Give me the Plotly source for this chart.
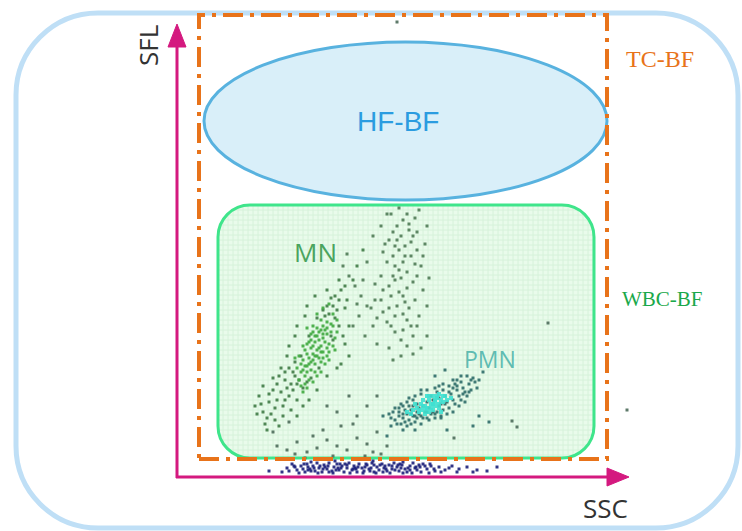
import math
import plotly.graph_objects as go

# ---------------- data (SSC, SFL channel values) ----------------
mn_core = [(128,110),(132,118),(136,122),(140,126),(144,130),(148,134),(138,112),(142,118),(146,124),
           (150,128),(134,128),(130,122),(126,116),(124,104),(128,100),(134,106),(138,104),(144,114),
           (150,120),(152,132),(150,142),(146,138),(142,136),(138,134),(134,136),(130,132),(136,144),
           (140,148),(146,150),(150,154),(156,150),(144,156),(140,120),(136,116),(132,112),(146,142),
           (142,144),(138,140),(148,146),(154,144),(130,110),(126,106),(136,130),(144,124),
           (124,90),(122,96),(126,84),(130,88),(132,96),(128,92),(136,94),(140,100),(134,114),(130,104),
           (124,112),(120,108),(138,120),(146,118),(152,124),(156,130),(158,138),(160,144),(154,152),
           (150,148),(144,146),(140,140),(134,142),(128,126),(132,134),(126,130),(148,112),(142,128),
           (152,116),(158,126),(160,156),(156,162),(146,168),(152,172),(140,162),(136,150),(130,148),
           (122,120),(118,118),(144,104)]
mn_outer = [(154,140),(158,158),(152,162),(148,160),(140,158),(160,166),(156,170),(150,170),(162,176),
            (158,180),(164,186),(168,190),(154,178),(146,166),(132,140),(116,86),(112,80),(108,76),
            (114,92),(110,88),(104,84),(100,76),(106,70),(98,68),(94,62),(90,58),(100,92),(96,86),
            (102,100),(108,104),(112,108),(118,114),(124,120),(120,76),(126,88),(130,94),(122,96),
            (118,100),(84,72),(88,52),(82,80),(106,60),(126,70),(160,108),(166,140),(172,120),(110,120),
            (118,140),(128,160),(170,176),(176,196),(180,210),(186,226),(120,92),(116,104),(134,98),
            (142,108),(156,136),(162,150),(92,74),(98,56),(86,64),
            (78,70),(80,62),(90,46),(102,50),(114,66),(120,60),(108,96),(104,108),(96,98),(112,130),
            (120,150),(130,170),(138,180),(150,186),(162,196),(168,168),(172,150),(168,132),(164,112),
            (150,100),(140,86),(132,76),(92,82),(86,90)]
upper = [(220,250),(226,256),(230,262),(216,244),(212,236),(224,240),(232,246),(236,240),(228,230),
         (222,226),(216,220),(210,214),(218,210),(226,214),(234,220),(240,226),(230,204),(224,198),
         (218,196),(212,190),(206,186),(214,180),(222,184),(230,188),(236,194),(240,200),(244,210),
         (228,174),(220,170),(212,168),(206,164),(200,158),(210,154),(218,160),(226,162),(232,168),
         (238,176),(234,150),(226,146),(218,144),(224,136),(230,130),(236,140),(242,160),(246,186),
         (204,200),(198,176),(194,168),(208,232),(238,258),(242,266),(250,250),(248,232),(214,262),
         (196,150),(188,140),(200,132),(212,128),(244,128),(250,140),(172,200),(178,190),(184,180),
         (166,210),(190,170),(182,160),(176,150),(170,222),(190,214),(222,268),(232,252),(218,230),
         (196,240),(204,250),(210,262),(240,244),(246,220),(252,198),(250,170),(204,176),(198,192),
         (216,200),(222,206),(228,220),(220,236),(226,180),(214,150),(230,156),(240,150),(238,212),
         (206,224),(234,234),(224,120),(216,116),(236,122),(180,172),(186,196)]
pmn_outer = [(218,56),(222,60),(226,58),(224,52),(230,62),(232,56),(234,66),(236,60),(238,54),(240,64),
             (242,68),(244,60),(246,70),(248,64),(250,58),(250,74),(252,68),(254,62),(256,76),(260,64),
             (262,78),(264,72),(266,66),(268,80),(270,74),(272,68),(274,82),(276,76),(278,72),(280,86),
             (282,80),(284,76),(286,88),(288,84),(290,80),(292,92),(294,86),(298,94),(296,98),(240,72),
             (236,70),(230,50),(228,66),(254,80),(260,84),(266,86),(272,90),(278,92),(284,94),(252,56),
             (258,58),(264,60),(270,62),(276,64),(282,70),(288,74),(244,52),(238,46),(226,46),(232,70),
             (222,68),(216,64),(214,50),(242,62),(238,60),(234,62),(300,88),(302,96),(290,100),(306,104),
             (210,40),(206,60),(302,60),(258,100),(268,106),(312,54),(296,50),(270,46),(280,96),(262,90),
             (214,58),(212,62),(220,52),(222,64),(226,70),(230,74),(228,54),(234,52),(240,58),(246,58),
             (250,64),(256,64),(262,70),(268,72),(272,84),(276,88),(280,90),(286,82),(292,84),(294,96),
             (284,100),(276,96),(266,92),(258,88),(250,86),(244,82),(238,80),(232,78),(224,72),(218,68),
             (264,58),(258,62),(226,62),(236,76),(244,86)]
pmn_core = [(250,68),(254,72),(258,70),(262,72),(258,76),(266,74),(262,68),(256,66),(252,76),(260,80),
            (246,70),(270,76),(264,64),(248,62),(268,80),(274,78),(244,66),(256,72),(264,76),(252,64),
            (240,68),(244,72),(248,70),(252,80),(246,76),(236,66),(242,64),(250,80),(256,80),(260,78),
            (238,72),(234,62),(254,68),(258,74),(262,82),(266,80),(230,64),(248,66)]
low_scatter = [(100,30),(110,26),(120,34),(130,24),(140,28),(150,36),(160,30),(170,26),(180,38),(190,32),
               (200,44),(210,30),(146,46),(164,50),(118,22),(136,40),(176,52),(196,24),(128,18),(188,20),
               (96,44),(180,60),(160,64),(190,70),(200,80),(172,80),(150,70),(112,54),(277,38),(335,55),
               (340,49),(371,153),(450,66),(220,454),(156,20),(204,22)]
debris = [(110,8),(115,12),(120,6),(124,10),(128,4),(130,12),(133,7),(136,10),(138,5),(140,13),(142,8),
          (145,4),(147,11),(150,7),(152,13),(155,5),(157,9),(160,12),(162,6),(165,10),(167,4),(170,8),
          (172,13),(175,6),(177,10),(180,4),(182,12),(185,8),(187,5),(190,11),(192,7),(195,13),(197,4),
          (200,9),(202,6),(205,12),(207,8),(210,5),(212,11),(215,7),(217,13),(220,9),(222,5),(225,11),
          (228,7),(230,4),(233,10),(236,13),(240,6),(243,9),(246,12),(250,7),(254,10),(258,5),(262,9),
          (268,6),(275,10),(282,7),(290,9),(126,7),(134,5),(143,10),(152,4),(161,8),(170,11),(179,7),
          (188,9),(197,11),(206,4),(215,10),(224,8),(233,6),(242,11),(118,9),(131,9),(148,9),(163,12),
          (178,8),(193,5),(208,10),(223,12),(238,8),(253,12),(300,6),(320,9),(92,5),(105,4),
          (112,5),(117,10),(122,3),(127,12),(131,6),(137,8),(141,3),(146,7),(151,10),(156,3),(159,6),
          (164,8),(168,12),(173,3),(176,7),(181,9),(186,3),(189,12),(194,8),(199,3),(203,11),(209,7),
          (213,3),(218,6),(221,11),(226,3),(231,8),(235,3),(239,9),(244,4),(248,10),(252,3),(257,7),
          (264,4),(272,8),(280,4),(296,4),(310,5),(134,14),(158,15),(196,15),(226,14)]

# ---------------- helpers (page pixel -> channel coordinates, for layout geometry only) ----------------
def X(px):
    return px - 177

def Y(py):
    return 476 - py

def rounded_rect(x0, y0, x1, y1, r):
    k = 0.5523 * r
    pts = [
        f"M {X(x0 + r)} {Y(y0)}",
        f"L {X(x1 - r)} {Y(y0)}",
        f"C {X(x1 - r + k)} {Y(y0)} {X(x1)} {Y(y0 + r - k)} {X(x1)} {Y(y0 + r)}",
        f"L {X(x1)} {Y(y1 - r)}",
        f"C {X(x1)} {Y(y1 - r + k)} {X(x1 - r + k)} {Y(y1)} {X(x1 - r)} {Y(y1)}",
        f"L {X(x0 + r)} {Y(y1)}",
        f"C {X(x0 + r - k)} {Y(y1)} {X(x0)} {Y(y1 - r + k)} {X(x0)} {Y(y1 - r)}",
        f"L {X(x0)} {Y(y0 + r)}",
        f"C {X(x0)} {Y(y0 + r - k)} {X(x0 + r - k)} {Y(y0)} {X(x0 + r)} {Y(y0)}",
        "Z",
    ]
    return " ".join(pts)

def grid_path(x0, y0, x1, y1, r, step):
    segs = []
    def yspan(x):
        lo, hi = y0, y1
        if x < x0 + r:
            d = math.sqrt(max(r * r - (x - (x0 + r)) ** 2, 0))
            lo, hi = y0 + r - d, y1 - r + d
        elif x > x1 - r:
            d = math.sqrt(max(r * r - (x - (x1 - r)) ** 2, 0))
            lo, hi = y0 + r - d, y1 - r + d
        return lo, hi
    def xspan(y):
        lo, hi = x0, x1
        if y < y0 + r:
            d = math.sqrt(max(r * r - (y - (y0 + r)) ** 2, 0))
            lo, hi = x0 + r - d, x1 - r + d
        elif y > y1 - r:
            d = math.sqrt(max(r * r - (y - (y1 - r)) ** 2, 0))
            lo, hi = x0 + r - d, x1 - r + d
        return lo, hi
    x = x0 + step
    while x < x1:
        a, b = yspan(x)
        segs.append(f"M {X(x)} {Y(a)} L {X(x)} {Y(b)}")
        x += step
    y = y0 + step
    while y < y1:
        a, b = xspan(y)
        segs.append(f"M {X(a)} {Y(y)} L {X(b)} {Y(y)}")
        y += step
    return " ".join(segs)

MAGENTA = "#d4197f"
shapes = [
    # outer frame
    dict(type="path", path=rounded_rect(16, 13, 738, 528, 82), line=dict(color="#bfdff6", width=5),
         fillcolor="rgba(0,0,0,0)", layer="below"),
    # HF-BF ellipse
    dict(type="circle", x0=X(204), x1=X(607), y0=Y(42), y1=Y(200), fillcolor="#d9eff9",
         line=dict(color="#58b2df", width=3), layer="below"),
    # WBC-BF rounded rectangle with faint grid
    dict(type="path", path=rounded_rect(218, 205, 594, 458, 32), fillcolor="#e9fbeb",
         line=dict(color="#3fe58b", width=0), layer="below"),
    dict(type="path", path=grid_path(218, 205, 594, 458, 32, 5), line=dict(color="#d6f2da", width=1),
         layer="below"),
    dict(type="path", path=rounded_rect(218, 205, 594, 458, 32), fillcolor="rgba(0,0,0,0)",
         line=dict(color="#3fe58b", width=3), layer="below"),
    # TC-BF dash-dot rectangle
    dict(type="rect", x0=X(199), x1=X(607), y0=Y(459), y1=Y(15), fillcolor="rgba(0,0,0,0)",
         line=dict(color="#e8731a", width=4, dash="20px,7px,4px,7px"), layer="above"),
    # axes
    dict(type="line", x0=X(177), x1=X(177), y0=Y(478), y1=Y(42), line=dict(color=MAGENTA, width=3), layer="above"),
    dict(type="line", x0=X(176), x1=X(612), y0=Y(477), y1=Y(477), line=dict(color=MAGENTA, width=3), layer="above"),
    dict(type="path", path=f"M {X(177)} {Y(24)} L {X(186)} {Y(47)} L {X(168)} {Y(47)} Z",
         fillcolor=MAGENTA, line=dict(color=MAGENTA, width=1), layer="above"),
    dict(type="path", path=f"M {X(629)} {Y(477)} L {X(607)} {Y(468)} L {X(607)} {Y(486)} Z",
         fillcolor=MAGENTA, line=dict(color=MAGENTA, width=1), layer="above"),
]

def trace(pts, color, size=3, opacity=0.9):
    return go.Scatter(x=[p[0] for p in pts], y=[p[1] for p in pts], mode="markers",
                      marker=dict(symbol="square", size=size, color=color, opacity=opacity),
                      hoverinfo="skip", showlegend=False)

fig = go.Figure([
    trace(low_scatter, "#4d6b5a"),
    trace(mn_outer, "#3f7a45"),
    trace(mn_core, "#3fa83f"),
    trace(upper, "#4f7a55"),
    trace(pmn_outer, "#2e6b68"),
    trace(pmn_core, "#3fe0d0", size=4),
    trace(debris, "#1b1f7a", size=3),
])

annotations = [
    dict(x=X(398), y=Y(121), text="HF-BF", font=dict(family="Liberation Sans, Arial", size=28, color="#2b9ce0")),
    dict(x=X(315), y=Y(252), text="MN", font=dict(family="Open Sans", size=26, color="#4aa45e")),
    dict(x=X(490), y=Y(359), text="PMN", font=dict(family="Open Sans", size=23, color="#5fbcb2")),
    dict(x=X(660), y=Y(59), text="TC-BF", font=dict(family="Liberation Serif, Times New Roman", size=24, color="#e8731a")),
    dict(x=X(662), y=Y(299), text="WBC-BF", font=dict(family="Liberation Serif, Times New Roman", size=21, color="#1aa84a")),
    dict(x=X(605), y=Y(508), text="SSC", font=dict(family="Open Sans", size=26, color="#333333")),
    dict(x=X(148), y=Y(46), text="SFL", textangle=-90, font=dict(family="Open Sans", size=26, color="#333333")),
]
for a in annotations:
    a.update(showarrow=False, xref="x", yref="y", xanchor="center", yanchor="middle")

fig.update_layout(
    width=742, height=531, margin=dict(l=0, r=0, t=0, b=0),
    paper_bgcolor="white", plot_bgcolor="white",
    xaxis=dict(range=[X(0), X(742)], visible=False, fixedrange=True),
    yaxis=dict(range=[Y(531), Y(0)], visible=False, fixedrange=True),
    shapes=shapes, annotations=annotations,
)
fig.write_html("out.html", config={"displayModeBar": False},
               post_script="document.body.style.margin='0';document.body.style.overflow='hidden';")
